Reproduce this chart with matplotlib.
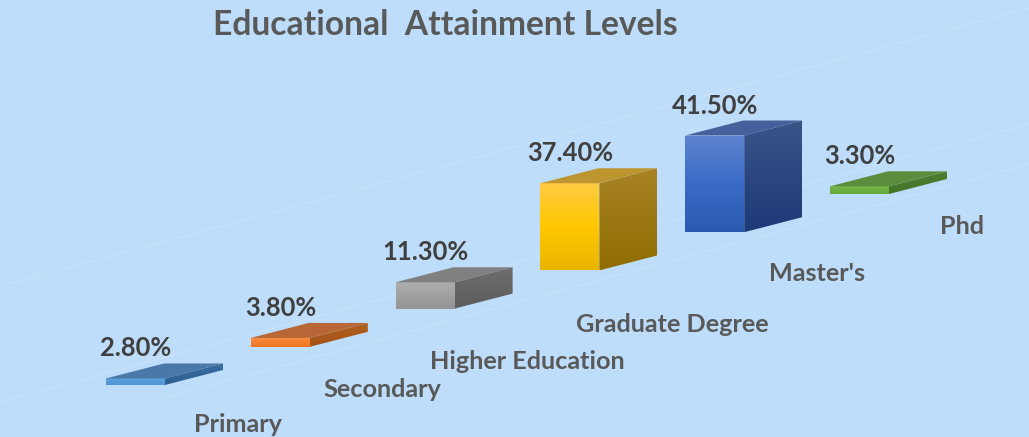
import numpy as np
import matplotlib
matplotlib.use("Agg")
import matplotlib.pyplot as plt
from matplotlib.colors import LinearSegmentedColormap
from matplotlib.patches import Polygon

categories = ["Primary", "Secondary", "Higher Education", "Graduate Degree", "Master's", "Phd"]
values = [2.8, 3.8, 11.3, 37.4, 41.5, 3.3]

# front gradient (top to bottom), top face, side gradient
front_colors = [
    ["#5FA3DE", "#5094D2"],
    ["#F88C3E", "#EE7420"],
    ["#ADADAD", "#949494"],
    ["#FFCB45", "#FFC800", "#EAB500"],
    ["#5E82CF", "#3A6CC6", "#2A5AB0"],
    ["#75B74A", "#66A83B"],
]
top_colors = ["#4A79A9", "#B96736", "#808080", "#BE9630", "#475F9A", "#5E8C3D"]
side_colors = [
    ["#3A6C9E", "#2F5F92"],
    ["#B0601F", "#A65218"],
    ["#6E6E6E", "#5C5C5C"],
    ["#A88326", "#8F6D00"],
    ["#3B5488", "#1C3A78"],
    ["#4E8030", "#43752A"],
]

# layout in figure pixels
BG = "#BDDDFA"
X0, Y0 = 106, 385
STEP_X, STEP_Y = 144.8, -38.2
BAR_W, DEPTH_X, DEPTH_Y = 59, 58, -15
PX_PER_PCT = 2.33
label_gap = [39, 43, 53, 54, 41, 32]

fig = plt.figure(figsize=(10.29, 4.37), dpi=100, facecolor=BG)
ax = fig.add_axes([0, 0, 1, 1])
ax.set_xlim(0, 1029)
ax.set_ylim(437, 0)
ax.axis("off")

plt.rcParams["font.family"] = ["Lato", "DejaVu Sans"]


def shaded(ax, pts, colors, z):
    # vertical gradient clipped to a polygon
    pts = np.array(pts)
    cmap = LinearSegmentedColormap.from_list("g", colors)
    ext = [pts[:, 0].min(), pts[:, 0].max(), pts[:, 1].max(), pts[:, 1].min()]
    im = ax.imshow(np.linspace(0, 1, 64).reshape(-1, 1), cmap=cmap, extent=ext,
                   aspect="auto", zorder=z, interpolation="bilinear")
    im.set_clip_path(Polygon(pts, closed=True, transform=ax.transData))


# faint floor grid lines
for x1, y1, x2, y2 in [(0, 286, 1029, 8), (0, 402, 1029, 124), (167, 397, 1029, 164)]:
    ax.plot([x1, x2], [y1, y2], color="#C9E3F9", lw=0.8, zorder=1)

for i, (name, val) in enumerate(zip(categories, values)):
    x = X0 + i * STEP_X
    base = Y0 + i * STEP_Y
    top = base - val * PX_PER_PCT
    z = 2 + i

    front = [(x, base), (x + BAR_W, base), (x + BAR_W, top), (x, top)]
    side = [(x + BAR_W, base), (x + BAR_W + DEPTH_X, base + DEPTH_Y),
            (x + BAR_W + DEPTH_X, top + DEPTH_Y), (x + BAR_W, top)]
    lid = [(x, top), (x + BAR_W, top), (x + BAR_W + DEPTH_X, top + DEPTH_Y),
           (x + DEPTH_X, top + DEPTH_Y)]

    shaded(ax, side, side_colors[i], z)
    shaded(ax, front, front_colors[i], z)
    ax.add_patch(Polygon(lid, closed=True, facecolor=top_colors[i], edgecolor="none", zorder=z))

    ax.text(x + 30, top - 30, f"{val:.2f}%", ha="center", va="center", fontsize=18.4,
            fontweight="bold", color="#404040", zorder=10)
    ax.text(x + 132, base + label_gap[i], name, ha="center", va="center", fontsize=18.2,
            fontweight="bold", color="#595959", zorder=10)

ax.set_xlim(0, 1029)
ax.set_ylim(437, 0)

ax.text(445, 25, "Educational  Attainment Levels", ha="center", va="center", fontsize=24.2,
        fontweight="bold", color="#595959")

fig.savefig("out.png", dpi=100, facecolor=BG)
